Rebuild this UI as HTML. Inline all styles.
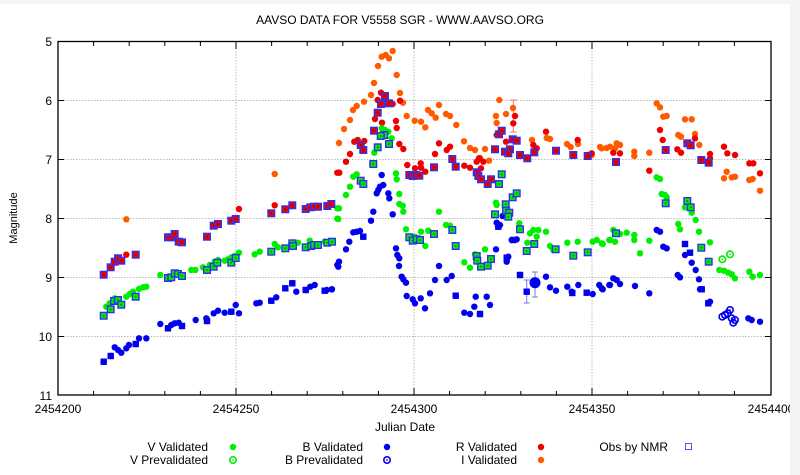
<!DOCTYPE html>
<html><head><meta charset="utf-8"><style>
html,body{margin:0;padding:0;background:#fff;}
body{width:800px;height:475px;overflow:hidden;position:relative;}
svg{position:absolute;left:0;top:0;}
text{font-family:"Liberation Sans",sans-serif;fill:#000;}
</style></head><body>
<svg width="800" height="475" viewBox="0 0 800 475" xmlns="http://www.w3.org/2000/svg">
<defs>
<circle id="v" r="3.2" fill="#00ee00"/>
<circle id="b" r="3.2" fill="#0000ee"/>
<circle id="r" r="3.2" fill="#ee0000"/>
<circle id="i" r="3.2" fill="#ff5a00"/>
<g id="nr"><rect x="-3.3" y="-3.3" width="6.6" height="6.6" fill="#ee0000" stroke="#3030ee" stroke-width="1.4"/><rect x="-0.8" y="-0.8" width="1.6" height="1.6" fill="#800"/></g>
<g id="nv"><rect x="-3.3" y="-3.3" width="6.6" height="6.6" fill="#00ee00" stroke="#3030ee" stroke-width="1.4"/><rect x="-0.8" y="-0.8" width="1.6" height="1.6" fill="#080"/></g>
<g id="nb"><rect x="-3.2" y="-3.2" width="6.4" height="6.4" fill="#0000ee"/></g>
<g id="pv"><circle r="3.2" fill="none" stroke="#00ee00" stroke-width="1.6"/><circle r="0.9" fill="#00ee00"/></g>
<g id="pb"><circle r="3.2" fill="none" stroke="#0000ee" stroke-width="1.6"/><circle r="0.9" fill="#0000ee"/></g>
</defs>
<rect x="0" y="0" width="800" height="4" fill="#f4f4f4"/>
<text x="400" y="24" font-size="12" text-anchor="middle">AAVSO DATA FOR V5558 SGR - WWW.AAVSO.ORG</text>
<g stroke="#bbb" stroke-width="1" stroke-dasharray="1.5,1.5">
<line x1="58" y1="100.5" x2="771" y2="100.5"/><line x1="58" y1="159.5" x2="771" y2="159.5"/><line x1="58" y1="218.5" x2="771" y2="218.5"/><line x1="58" y1="277.5" x2="771" y2="277.5"/><line x1="58" y1="336.5" x2="771" y2="336.5"/>
<line x1="236" y1="42" x2="236" y2="395"/><line x1="414" y1="42" x2="414" y2="395"/><line x1="592" y1="42" x2="592" y2="395"/>
</g>
<g stroke="#000" stroke-width="1">
<path d="M58,41.5h6M58,100.5h6M58,159.5h6M58,218.5h6M58,277.5h6M58,336.5h6M58,395h6M771,100.5h-6M771,159.5h-6M771,218.5h-6M771,277.5h-6M771,336.5h-6"/>
<path d="M93.6,42v4M129.2,42v4M164.8,42v4M200.4,42v4M236,42v7M271.6,42v4M307.2,42v4M342.8,42v4M378.4,42v4M414,42v7M449.6,42v4M485.2,42v4M520.8,42v4M556.4,42v4M592,42v7M627.6,42v4M663.2,42v4M698.8,42v4M734.4,42v4"/>
<path d="M93.6,395v-4M129.2,395v-4M164.8,395v-4M200.4,395v-4M236,395v-7M271.6,395v-4M307.2,395v-4M342.8,395v-4M378.4,395v-4M414,395v-7M449.6,395v-4M485.2,395v-4M520.8,395v-4M556.4,395v-4M592,395v-7M627.6,395v-4M663.2,395v-4M698.8,395v-4M734.4,395v-4"/>
</g>
<rect x="58" y="41.5" width="713" height="353.5" fill="none" stroke="#000" stroke-width="1.3"/>
<g font-size="12" text-anchor="end">
<text x="52" y="46">5</text><text x="52" y="105">6</text><text x="52" y="164">7</text><text x="52" y="223">8</text><text x="52" y="282">9</text><text x="52" y="341">10</text><text x="52" y="400">11</text>
</g>
<g font-size="12" text-anchor="middle">
<text x="58" y="413">2454200</text><text x="236" y="413">2454250</text><text x="414" y="413">2454300</text><text x="592" y="413">2454350</text><text x="771" y="413">2454400</text>
<text x="405" y="431">Julian Date</text>
<text transform="translate(17,218) rotate(-90)" font-size="11">Magnitude</text>
</g>
<rect x="790" y="0" width="10" height="475" fill="#f4f4f4"/>
<g stroke="#ee7777" stroke-width="1"><path d="M513.3,100v32M510,100h7M510,132h7"/></g>
<g stroke="#7777ee" stroke-width="1"><path d="M535,272v25M532,272h6M532,297h6M526.7,280v23M523.7,280h6M523.7,303h6"/></g>
<g>
<use href="#i" x="392.7" y="51"/><use href="#i" x="381.7" y="56.7"/><use href="#i" x="385.7" y="55"/><use href="#i" x="389" y="58.3"/><use href="#i" x="378" y="66"/><use href="#i" x="396.7" y="75"/><use href="#i" x="374" y="83"/><use href="#i" x="371" y="95"/><use href="#i" x="364" y="101.7"/><use href="#i" x="356.7" y="106"/><use href="#i" x="353" y="110"/><use href="#i" x="350" y="120"/><use href="#i" x="344" y="129"/><use href="#i" x="339" y="143"/><use href="#i" x="400" y="93"/><use href="#i" x="403" y="102.7"/><use href="#i" x="406.7" y="116"/><use href="#i" x="414.7" y="120.7"/><use href="#i" x="421" y="121.7"/><use href="#i" x="425.3" y="127.3"/><use href="#i" x="428" y="110"/><use href="#i" x="431.7" y="113.3"/><use href="#i" x="435.7" y="117.7"/><use href="#i" x="439" y="105"/><use href="#i" x="446" y="114"/><use href="#i" x="450" y="116"/><use href="#i" x="456.3" y="125"/><use href="#i" x="464" y="141.3"/><use href="#i" x="470" y="148"/><use href="#i" x="475" y="150"/><use href="#i" x="480" y="158"/><use href="#i" x="485" y="149"/><use href="#i" x="489" y="160.7"/><use href="#i" x="499.3" y="100"/><use href="#i" x="496" y="116"/><use href="#i" x="506" y="114"/><use href="#i" x="496.7" y="123"/><use href="#i" x="513" y="108"/><use href="#i" x="532" y="140"/><use href="#i" x="546.7" y="138"/><use href="#i" x="550" y="139"/><use href="#i" x="567" y="144"/><use href="#i" x="570.7" y="147"/><use href="#i" x="578" y="144"/><use href="#i" x="591.7" y="155"/><use href="#i" x="600" y="147"/><use href="#i" x="606.7" y="148"/>
<use href="#i" x="126.3" y="219.3"/><use href="#i" x="274.7" y="174"/>
<use href="#i" x="656.7" y="103.3"/><use href="#i" x="660" y="107.3"/><use href="#i" x="663.3" y="116.7"/><use href="#i" x="666.7" y="116"/><use href="#i" x="685" y="119.3"/><use href="#i" x="691.7" y="119.3"/><use href="#i" x="678.3" y="135"/><use href="#i" x="681" y="136.7"/><use href="#i" x="695" y="134"/><use href="#i" x="699.3" y="145"/><use href="#i" x="610" y="146.7"/><use href="#i" x="615" y="148.3"/><use href="#i" x="616.7" y="143.3"/><use href="#i" x="620" y="145"/><use href="#i" x="634.3" y="151.7"/><use href="#i" x="634.3" y="156"/><use href="#i" x="649.3" y="152.7"/><use href="#i" x="724" y="178.3"/><use href="#i" x="726.7" y="171.7"/><use href="#i" x="731.7" y="177.3"/><use href="#i" x="735" y="176.7"/><use href="#i" x="749.3" y="180"/><use href="#i" x="752.7" y="179"/><use href="#i" x="760" y="190.7"/><use href="#i" x="601.7" y="148.3"/>
</g>
<g>
<use href="#r" x="381" y="92.7"/><use href="#r" x="377.7" y="100"/><use href="#r" x="375" y="119"/><use href="#r" x="382" y="122.7"/><use href="#r" x="396" y="121"/><use href="#r" x="396.7" y="128"/><use href="#r" x="392.7" y="104"/><use href="#r" x="400" y="100.7"/><use href="#r" x="354.3" y="141.7"/><use href="#r" x="357.7" y="140"/><use href="#r" x="364.3" y="141"/><use href="#r" x="350" y="154"/><use href="#r" x="346" y="161.7"/><use href="#r" x="339.3" y="172.7"/><use href="#r" x="399.3" y="144"/><use href="#r" x="403.3" y="149"/><use href="#r" x="407.3" y="165"/><use href="#r" x="415" y="168.3"/><use href="#r" x="420.7" y="163.3"/><use href="#r" x="421" y="167.7"/><use href="#r" x="425.3" y="171.7"/><use href="#r" x="435" y="154"/><use href="#r" x="439" y="143.3"/><use href="#r" x="446.7" y="150"/><use href="#r" x="450" y="146.7"/><use href="#r" x="464.3" y="165.7"/><use href="#r" x="470" y="167.7"/><use href="#r" x="476.7" y="161.7"/><use href="#r" x="479" y="158.3"/><use href="#r" x="483.3" y="161.7"/><use href="#r" x="481" y="168.3"/><use href="#r" x="496.7" y="135"/><use href="#r" x="506" y="141.7"/><use href="#r" x="513.3" y="123.3"/><use href="#r" x="515" y="116"/><use href="#r" x="533.3" y="145"/><use href="#r" x="536.7" y="148.3"/><use href="#r" x="546" y="131.7"/><use href="#r" x="577.7" y="140"/><use href="#r" x="587.7" y="155"/><use href="#r" x="591.7" y="153.3"/>
<use href="#r" x="126.3" y="254.7"/><use href="#r" x="239" y="209"/><use href="#r" x="274.7" y="205.3"/><use href="#r" x="337.3" y="172.7"/>
<use href="#r" x="660" y="130"/><use href="#r" x="662.7" y="140"/><use href="#r" x="649.3" y="170.7"/><use href="#r" x="677.3" y="149.3"/><use href="#r" x="681" y="152.7"/><use href="#r" x="695" y="138.3"/><use href="#r" x="710" y="154"/><use href="#r" x="710" y="158.3"/><use href="#r" x="724" y="146.7"/><use href="#r" x="727.3" y="153.3"/><use href="#r" x="735" y="155"/><use href="#r" x="749.3" y="163.3"/><use href="#r" x="753.3" y="163.3"/><use href="#r" x="760" y="173.3"/><use href="#r" x="620" y="153.3"/><use href="#r" x="613.3" y="152.7"/>
</g>
<g>
<use href="#v" x="381.7" y="128.3"/><use href="#v" x="385" y="130"/><use href="#v" x="388.3" y="131.7"/><use href="#v" x="391.7" y="138.3"/><use href="#v" x="383.3" y="135"/><use href="#v" x="374.3" y="152.7"/><use href="#v" x="372.3" y="164"/><use href="#v" x="356.7" y="174.3"/><use href="#v" x="353.3" y="176.7"/><use href="#v" x="350" y="186.7"/><use href="#v" x="346" y="195"/><use href="#v" x="339" y="208.3"/><use href="#v" x="338.3" y="219"/><use href="#v" x="396" y="173.3"/><use href="#v" x="396.7" y="179.3"/><use href="#v" x="399.3" y="194"/><use href="#v" x="399.3" y="204"/><use href="#v" x="402.7" y="205.7"/><use href="#v" x="403.3" y="211.7"/><use href="#v" x="439" y="211.7"/><use href="#v" x="325" y="241.7"/><use href="#v" x="406" y="229.3"/><use href="#v" x="415" y="236.7"/><use href="#v" x="421" y="231.7"/><use href="#v" x="425.3" y="246"/><use href="#v" x="428.3" y="230.7"/><use href="#v" x="446" y="225"/><use href="#v" x="450" y="225.7"/><use href="#v" x="464.3" y="262.3"/><use href="#v" x="470" y="267.7"/><use href="#v" x="475" y="254.3"/><use href="#v" x="476.7" y="260"/><use href="#v" x="485" y="249.3"/><use href="#v" x="496" y="202.7"/><use href="#v" x="496.7" y="205"/><use href="#v" x="519.3" y="223.3"/><use href="#v" x="527.3" y="242.7"/><use href="#v" x="530" y="233.3"/><use href="#v" x="533.3" y="230"/><use href="#v" x="538.3" y="230"/><use href="#v" x="536.7" y="236.7"/><use href="#v" x="546" y="231.7"/><use href="#v" x="550" y="246"/><use href="#v" x="553.3" y="250"/><use href="#v" x="567.3" y="242.7"/><use href="#v" x="577.7" y="241.7"/><use href="#v" x="592.7" y="241.7"/><use href="#v" x="596.7" y="240"/><use href="#v" x="602.7" y="244"/><use href="#v" x="609.3" y="240"/>
<use href="#v" x="106.3" y="306.7"/><use href="#v" x="109.7" y="303.3"/><use href="#v" x="114.7" y="298.3"/><use href="#v" x="126.3" y="296.7"/><use href="#v" x="129.7" y="294"/><use href="#v" x="133" y="291.7"/><use href="#v" x="139" y="289"/><use href="#v" x="143" y="287.3"/><use href="#v" x="146.3" y="286.7"/><use href="#v" x="160.3" y="275"/><use href="#v" x="174.7" y="272.7"/><use href="#v" x="191.3" y="270"/><use href="#v" x="195.3" y="270"/><use href="#v" x="203" y="267.3"/><use href="#v" x="209.7" y="265"/><use href="#v" x="214.7" y="261.7"/><use href="#v" x="218" y="260"/><use href="#v" x="224.7" y="260.7"/><use href="#v" x="228" y="259.3"/><use href="#v" x="231.3" y="257.3"/><use href="#v" x="234.7" y="256"/><use href="#v" x="239" y="252.7"/><use href="#v" x="254.7" y="254.3"/><use href="#v" x="259.7" y="251.7"/><use href="#v" x="274.7" y="244"/><use href="#v" x="278" y="247.3"/><use href="#v" x="291.3" y="243.3"/><use href="#v" x="298" y="242.7"/><use href="#v" x="309.7" y="240.7"/><use href="#v" x="324.7" y="241.7"/><use href="#v" x="337.3" y="218.7"/><use href="#v" x="337.3" y="208.3"/>
<use href="#v" x="656.7" y="177.3"/><use href="#v" x="660" y="179"/><use href="#v" x="661.7" y="194"/><use href="#v" x="665" y="195"/><use href="#v" x="666.7" y="197.3"/><use href="#v" x="685" y="207.3"/><use href="#v" x="691.7" y="212.7"/><use href="#v" x="695.7" y="220"/><use href="#v" x="699" y="231.7"/><use href="#v" x="710" y="242.3"/><use href="#v" x="678.3" y="224"/><use href="#v" x="680" y="229.3"/><use href="#v" x="601.7" y="243.3"/><use href="#v" x="610" y="240"/><use href="#v" x="615" y="241.7"/><use href="#v" x="613.3" y="230"/><use href="#v" x="620" y="234"/><use href="#v" x="626.7" y="232.7"/><use href="#v" x="634.3" y="235"/><use href="#v" x="634.3" y="240"/><use href="#v" x="640" y="253.3"/><use href="#v" x="649.3" y="240.7"/><use href="#v" x="719.3" y="270"/><use href="#v" x="724" y="270.7"/><use href="#v" x="728.3" y="272.7"/><use href="#v" x="731.7" y="274.3"/><use href="#v" x="735" y="278.3"/><use href="#v" x="749.3" y="271.7"/><use href="#v" x="752.7" y="276.7"/><use href="#v" x="760" y="275"/>
<use href="#pv" x="722.3" y="259.3"/><use href="#pv" x="730" y="254.3"/>
</g>
<g>
<use href="#b" x="381.7" y="175"/><use href="#b" x="383.3" y="185"/><use href="#b" x="380" y="186.7"/><use href="#b" x="376.7" y="193.3"/><use href="#b" x="378.3" y="190"/><use href="#b" x="388.3" y="193.3"/><use href="#b" x="389.3" y="198.3"/><use href="#b" x="373.3" y="211.7"/><use href="#b" x="371" y="220.7"/><use href="#b" x="392.7" y="214.3"/><use href="#b" x="363.3" y="236.7"/><use href="#b" x="356.7" y="231.7"/><use href="#b" x="353.3" y="232.3"/><use href="#b" x="360" y="231"/><use href="#b" x="349.3" y="241.7"/><use href="#b" x="346" y="249.3"/><use href="#b" x="339" y="261.7"/><use href="#b" x="338.3" y="266.7"/><use href="#b" x="326.7" y="290"/><use href="#b" x="331.7" y="289.3"/><use href="#b" x="396" y="248.3"/><use href="#b" x="397.3" y="255"/><use href="#b" x="399.3" y="258.3"/><use href="#b" x="399" y="266"/><use href="#b" x="401.7" y="276.7"/><use href="#b" x="403.3" y="279.3"/><use href="#b" x="406" y="282.7"/><use href="#b" x="406.7" y="296"/><use href="#b" x="412.7" y="299.3"/><use href="#b" x="415" y="303.3"/><use href="#b" x="420.7" y="298.3"/><use href="#b" x="425" y="308.3"/><use href="#b" x="430" y="293.3"/><use href="#b" x="435" y="280"/><use href="#b" x="439" y="266"/><use href="#b" x="446.7" y="280"/><use href="#b" x="451.7" y="276"/><use href="#b" x="455.7" y="295.7"/><use href="#b" x="464.3" y="312.7"/><use href="#b" x="470" y="314"/><use href="#b" x="474.3" y="306.7"/><use href="#b" x="475.7" y="296.7"/><use href="#b" x="480" y="314"/><use href="#b" x="486.7" y="296.7"/><use href="#b" x="490" y="305"/><use href="#b" x="496" y="249.3"/><use href="#b" x="500" y="225"/><use href="#b" x="496.7" y="222.7"/><use href="#b" x="502.7" y="216"/><use href="#b" x="498.3" y="226.7"/><use href="#b" x="508.3" y="256.7"/><use href="#b" x="506.7" y="261.7"/><use href="#b" x="511.7" y="240"/><use href="#b" x="516.7" y="239.3"/><use href="#b" x="520" y="275"/><use href="#b" x="546" y="276.7"/><use href="#b" x="550" y="287.3"/><use href="#b" x="556" y="290.7"/><use href="#b" x="567.3" y="286.7"/><use href="#b" x="571.7" y="291.7"/><use href="#b" x="578.3" y="285"/><use href="#b" x="586.7" y="292.7"/><use href="#b" x="592.7" y="294"/><use href="#b" x="599.3" y="285"/><use href="#b" x="602.7" y="289.3"/><use href="#b" x="609.3" y="285"/>
<use href="#nb" x="455.7" y="295.7"/><use href="#nb" x="480" y="314"/><use href="#nb" x="498.3" y="226.7"/><use href="#nb" x="506.7" y="257.7"/><use href="#nb" x="513.3" y="240"/><use href="#nb" x="520" y="275"/><use href="#nb" x="526.7" y="291.7"/><use href="#nb" x="572.3" y="293"/><use href="#nb" x="586.7" y="292.7"/><use href="#nb" x="363.3" y="236.7"/>
<circle cx="535" cy="282.7" r="5.5" fill="#0000ee"/>
<use href="#b" x="103.7" y="361.7"/><use href="#b" x="110.7" y="356"/><use href="#b" x="114.7" y="347.3"/><use href="#b" x="118" y="350"/><use href="#b" x="121.3" y="352.7"/><use href="#b" x="126.3" y="348.3"/><use href="#b" x="129" y="345"/><use href="#b" x="135.7" y="344"/><use href="#b" x="139" y="338.3"/><use href="#b" x="146.3" y="338.3"/><use href="#b" x="160.3" y="324"/><use href="#b" x="168" y="328.3"/><use href="#b" x="171.3" y="325"/><use href="#b" x="174.7" y="323.3"/><use href="#b" x="178.7" y="322.7"/><use href="#b" x="182" y="326"/><use href="#b" x="195.7" y="320"/><use href="#b" x="206.3" y="318.3"/><use href="#b" x="207" y="321"/><use href="#b" x="213.7" y="313.3"/><use href="#b" x="218" y="310.7"/><use href="#b" x="224.7" y="312.7"/><use href="#b" x="231.3" y="311.7"/><use href="#b" x="235.7" y="305"/><use href="#b" x="239" y="313.3"/><use href="#b" x="256.3" y="303.3"/><use href="#b" x="259.7" y="302.7"/><use href="#b" x="271.3" y="300.7"/><use href="#b" x="276.3" y="297.3"/><use href="#b" x="285.3" y="288.3"/><use href="#b" x="292.3" y="283.3"/><use href="#b" x="296.3" y="291.7"/><use href="#b" x="305.7" y="290"/><use href="#b" x="310.3" y="286.7"/><use href="#b" x="314.7" y="285"/><use href="#b" x="324.7" y="290.7"/><use href="#b" x="332" y="289.3"/><use href="#b" x="337.3" y="265"/>
<use href="#nb" x="103.7" y="361.7"/><use href="#nb" x="110.7" y="356"/><use href="#nb" x="135.7" y="344"/><use href="#nb" x="168" y="328.3"/><use href="#nb" x="182" y="326"/><use href="#nb" x="207" y="321"/><use href="#nb" x="231.3" y="311.7"/><use href="#nb" x="271.3" y="300.7"/><use href="#nb" x="285.3" y="288.3"/><use href="#nb" x="292.3" y="283.3"/><use href="#nb" x="305.7" y="290"/><use href="#nb" x="324.7" y="290.7"/>
<use href="#b" x="656.7" y="230"/><use href="#b" x="660" y="231.7"/><use href="#b" x="663.3" y="246.7"/><use href="#b" x="666.7" y="248.3"/><use href="#b" x="677.7" y="275"/><use href="#b" x="680" y="277.3"/><use href="#b" x="685" y="255"/><use href="#b" x="690" y="252.7"/><use href="#b" x="691.7" y="262.7"/><use href="#b" x="695.7" y="270"/><use href="#b" x="699" y="279.3"/><use href="#b" x="700" y="289.3"/><use href="#b" x="701.7" y="289.3"/><use href="#b" x="708.3" y="303.3"/><use href="#b" x="710" y="301.7"/><use href="#b" x="601.7" y="288.3"/><use href="#b" x="610" y="285"/><use href="#b" x="613.3" y="278.3"/><use href="#b" x="616.7" y="280"/><use href="#b" x="620" y="284"/><use href="#b" x="635" y="286"/><use href="#b" x="649.3" y="293.3"/><use href="#b" x="748.3" y="318.3"/><use href="#b" x="751.7" y="320"/><use href="#b" x="760" y="321.7"/>
<use href="#nb" x="685" y="244"/><use href="#nb" x="690" y="252.7"/><use href="#nb" x="701.7" y="289.3"/><use href="#nb" x="708.3" y="303.3"/>
<use href="#pb" x="722.3" y="316.7"/><use href="#pb" x="725" y="315"/><use href="#pb" x="727.7" y="313.3"/><use href="#pb" x="730" y="310"/><use href="#pb" x="731.7" y="318.3"/><use href="#pb" x="733.3" y="322.7"/><use href="#pb" x="735" y="320"/>
</g>
<g>
<use href="#nr" x="385" y="96"/><use href="#nr" x="381" y="104"/><use href="#nr" x="389" y="103.3"/><use href="#nr" x="377.7" y="112.7"/><use href="#nr" x="374" y="130.7"/><use href="#nr" x="360.7" y="145"/><use href="#nr" x="363.3" y="150"/><use href="#nr" x="409.3" y="175"/><use href="#nr" x="412.7" y="176"/><use href="#nr" x="416" y="175"/><use href="#nr" x="419.3" y="175.7"/><use href="#nr" x="434" y="167.3"/><use href="#nr" x="452.3" y="159"/><use href="#nr" x="455.7" y="166.7"/><use href="#nr" x="476.7" y="172.3"/><use href="#nr" x="478.3" y="176"/><use href="#nr" x="481" y="179.3"/><use href="#nr" x="487.7" y="184"/><use href="#nr" x="491" y="179.3"/><use href="#nr" x="495" y="149.3"/><use href="#nr" x="499" y="134.3"/><use href="#nr" x="501.7" y="130.7"/><use href="#nr" x="505" y="151.7"/><use href="#nr" x="510" y="149.3"/><use href="#nr" x="508.3" y="153.3"/><use href="#nr" x="512.7" y="139.3"/><use href="#nr" x="516.7" y="140.7"/><use href="#nr" x="520" y="155"/><use href="#nr" x="527.3" y="158.3"/><use href="#nr" x="534.3" y="152.3"/><use href="#nr" x="556" y="150.7"/><use href="#nr" x="573.3" y="155"/><use href="#nr" x="587.7" y="156"/>
<use href="#nr" x="103.7" y="274.7"/><use href="#nr" x="110.7" y="267.3"/><use href="#nr" x="114.7" y="261.7"/><use href="#nr" x="118" y="258.3"/><use href="#nr" x="121.3" y="260.7"/><use href="#nr" x="135.7" y="254.7"/><use href="#nr" x="168" y="237.3"/><use href="#nr" x="171.3" y="237.3"/><use href="#nr" x="174.7" y="234"/><use href="#nr" x="178.7" y="241.7"/><use href="#nr" x="182" y="242.3"/><use href="#nr" x="207" y="236.7"/><use href="#nr" x="213.7" y="225.7"/><use href="#nr" x="218" y="224"/><use href="#nr" x="231.3" y="220.7"/><use href="#nr" x="235.7" y="219"/><use href="#nr" x="271.3" y="213.3"/><use href="#nr" x="285.3" y="209.3"/><use href="#nr" x="292.3" y="205.3"/><use href="#nr" x="305.7" y="209"/><use href="#nr" x="310.3" y="207.3"/><use href="#nr" x="314" y="206.7"/><use href="#nr" x="318" y="206.7"/><use href="#nr" x="327.3" y="206"/><use href="#nr" x="331.3" y="204"/>
<use href="#nr" x="616" y="162"/><use href="#nr" x="665.7" y="150"/><use href="#nr" x="687.3" y="143.3"/><use href="#nr" x="690.7" y="145.3"/><use href="#nr" x="701.3" y="160"/><use href="#nr" x="708.7" y="162.7"/>
<use href="#nv" x="384.3" y="135"/><use href="#nv" x="380.7" y="136"/><use href="#nv" x="377.7" y="147.3"/><use href="#nv" x="389" y="144"/><use href="#nv" x="373.3" y="164"/><use href="#nv" x="360.7" y="180.7"/><use href="#nv" x="363.3" y="184"/><use href="#nv" x="409.3" y="237.3"/><use href="#nv" x="412.7" y="240.7"/><use href="#nv" x="416.7" y="239.3"/><use href="#nv" x="420" y="240"/><use href="#nv" x="434" y="234"/><use href="#nv" x="452.3" y="230"/><use href="#nv" x="455.7" y="246"/><use href="#nv" x="476.7" y="256"/><use href="#nv" x="477.3" y="260.7"/><use href="#nv" x="481" y="266.7"/><use href="#nv" x="487.7" y="265.7"/><use href="#nv" x="491" y="259"/><use href="#nv" x="495" y="214.3"/><use href="#nv" x="501.7" y="174.3"/><use href="#nv" x="499" y="184"/><use href="#nv" x="505.7" y="204.3"/><use href="#nv" x="506" y="210.7"/><use href="#nv" x="509.3" y="212.7"/><use href="#nv" x="508.3" y="216.7"/><use href="#nv" x="512.7" y="197.3"/><use href="#nv" x="516.7" y="193.3"/><use href="#nv" x="520" y="229.3"/><use href="#nv" x="526.7" y="251"/><use href="#nv" x="534.3" y="244"/><use href="#nv" x="555.7" y="249.3"/><use href="#nv" x="573.3" y="255.7"/><use href="#nv" x="587.7" y="252.3"/>
<use href="#nv" x="103.7" y="315.7"/><use href="#nv" x="110.7" y="309.3"/><use href="#nv" x="114" y="301"/><use href="#nv" x="118" y="300"/><use href="#nv" x="121.3" y="304.7"/><use href="#nv" x="135.7" y="296.7"/><use href="#nv" x="168" y="278"/><use href="#nv" x="171.3" y="277.3"/><use href="#nv" x="174.7" y="273.3"/><use href="#nv" x="178" y="274"/><use href="#nv" x="182" y="276"/><use href="#nv" x="207" y="270"/><use href="#nv" x="213.7" y="266.7"/><use href="#nv" x="217.3" y="262.7"/><use href="#nv" x="231.3" y="262.7"/><use href="#nv" x="235.7" y="258"/><use href="#nv" x="271.3" y="251.7"/><use href="#nv" x="285.3" y="248.3"/><use href="#nv" x="292.3" y="243.3"/><use href="#nv" x="293" y="246"/><use href="#nv" x="305.7" y="247.3"/><use href="#nv" x="311.3" y="246"/><use href="#nv" x="314" y="245"/><use href="#nv" x="318" y="245"/><use href="#nv" x="327.3" y="242.7"/><use href="#nv" x="332" y="241.7"/>
<use href="#nv" x="616" y="233.3"/><use href="#nv" x="665.7" y="203.3"/><use href="#nv" x="687.3" y="201"/><use href="#nv" x="690.7" y="207.3"/><use href="#nv" x="701.3" y="247.7"/><use href="#nv" x="708.7" y="261.7"/>
</g>
<g font-size="12" text-anchor="end">
<text x="208" y="451">V Validated</text><text x="208" y="464">V Prevalidated</text>
<text x="363" y="451">B Validated</text><text x="363" y="464">B Prevalidated</text>
<text x="517" y="451">R Validated</text><text x="517" y="464">I Validated</text>
<text x="668" y="451">Obs by NMR</text>
</g>
<use href="#v" x="233" y="447"/><use href="#pv" x="233" y="460"/>
<use href="#b" x="387" y="447"/><use href="#pb" x="387" y="460"/>
<use href="#r" x="541" y="447"/><use href="#i" x="541" y="460"/>
<rect x="685.5" y="443.5" width="6" height="6" fill="none" stroke="#5555ee" stroke-width="1"/>
</svg>
</body></html>
